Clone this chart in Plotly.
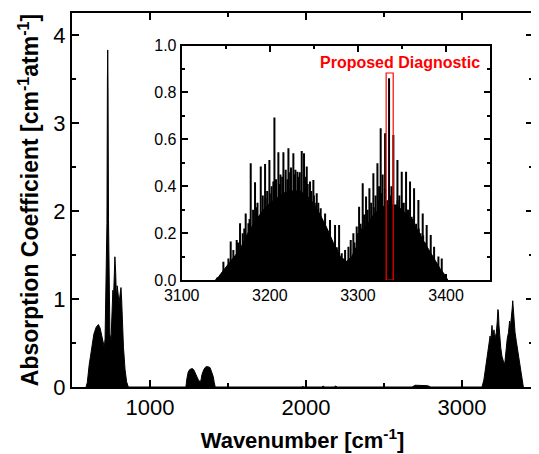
import plotly.graph_objects as go

# espectro completo (contorno)
wn_main = [590, 598, 610, 625, 640, 655, 669, 680, 692, 700, 707, 712, 716, 720, 724, 727, 729, 731, 734, 738,
           743, 750, 756, 762, 766, 770, 775, 780, 785, 790, 796, 802, 808, 814, 818, 822, 830, 840, 850, 861,
           1230, 1237, 1245, 1255, 1265, 1272, 1282, 1295, 1310, 1322, 1327, 1333, 1345, 1358, 1372, 1385,
           1395, 1405, 1412, 1418,
           1975, 1980, 1985, 2100, 2110, 2120, 2180, 2190, 2200, 2680, 2700, 2740, 2780, 2800,
           3128, 3140, 3150, 3160, 3168, 3175, 3180, 3184, 3188, 3192, 3196, 3200, 3205, 3210, 3215, 3220,
           3226, 3230, 3233, 3237, 3242, 3248, 3256, 3265, 3272, 3276, 3282, 3290, 3298, 3305, 3309, 3313,
           3318, 3322, 3325, 3329, 3334, 3340, 3348, 3358, 3368, 3378, 3386, 3393]
ab_main = [0, 0.05, 0.25, 0.45, 0.6, 0.68, 0.71, 0.67, 0.57, 0.49, 0.45, 0.55, 1.0, 1.6, 1.86, 3.5, 3.83, 3.4, 1.9, 0.9,
           0.6, 0.53, 0.75, 1.1, 1.0, 1.25, 1.48, 1.3, 1.0, 1.15, 1.0, 0.95, 1.05, 1.13, 1.0, 0.75, 0.45, 0.2, 0.06, 0,
           0, 0.1, 0.17, 0.2, 0.21, 0.21, 0.19, 0.14, 0.08, 0.06, 0.08, 0.14, 0.2, 0.23, 0.23, 0.22,
           0.18, 0.12, 0.05, 0,
           0, 0.01, 0, 0, 0.01, 0, 0, 0.01, 0, 0, 0.02, 0.02, 0.015, 0,
           0, 0.08, 0.2, 0.35, 0.45, 0.55, 0.58, 0.5, 0.62, 0.7, 0.6, 0.6, 0.65, 0.55, 0.58, 0.62,
           0.75, 0.88, 0.86, 0.7, 0.55, 0.45, 0.35, 0.27, 0.25, 0.3, 0.42, 0.55, 0.62, 0.75, 0.66, 0.72,
           0.8, 0.9, 0.98, 0.85, 0.72, 0.62, 0.52, 0.4, 0.28, 0.15, 0.06, 0]

# inset: fondo denso de lineas
wn_base = [3138, 3142, 3147, 3155, 3166, 3175, 3185, 3195, 3204, 3215, 3223, 3234, 3242, 3249, 3257, 3265,
           3272, 3280, 3287, 3293, 3299, 3308, 3318, 3326, 3333, 3344, 3355, 3365, 3374, 3385, 3393, 3398, 3402]
ab_base = [0, 0.015, 0.04, 0.08, 0.13, 0.2, 0.26, 0.31, 0.34, 0.37, 0.38, 0.38, 0.36, 0.33, 0.28, 0.22,
           0.16, 0.1, 0.08, 0.1, 0.15, 0.22, 0.28, 0.31, 0.32, 0.32, 0.28, 0.23, 0.17, 0.1, 0.05, 0.025, 0]

# inset: lineas individuales
wn_lines = [3140.5, 3147.3, 3153.0, 3155.6, 3158.6, 3162.4, 3166.2, 3169.2, 3172.6, 3175.7, 3178.3, 3183.2,
            3187.0, 3189.7, 3194.6, 3199.5, 3205.2, 3209.7, 3215.4, 3221.1, 3226.7, 3231.3, 3236.2, 3238.8,
            3241.9, 3245.6, 3249.4, 3253.2, 3257.7, 3262.7, 3268.3, 3274.0, 3278.6, 3281.6, 3285.4, 3289.2,
            3291.8, 3294.8, 3298.6, 3301.3, 3305.4, 3309.2, 3313.0, 3317.5, 3322.1, 3325.8, 3330.8, 3335.3,
            3340.2, 3344.8, 3349.7, 3354.6, 3359.1, 3363.7, 3368.6, 3373.5, 3378.0, 3382.6, 3386.4, 3391.3,
            3395.1, 3398.1,
            3181, 3186, 3192, 3197, 3202, 3207, 3212, 3218, 3224, 3229, 3234, 3240, 3247, 3251, 3256, 3260,
            3265, 3270, 3276, 3296, 3303, 3307, 3311, 3315, 3320, 3324, 3328, 3333, 3338, 3342, 3347, 3352,
            3357, 3361, 3366, 3371, 3376,
            3164, 3171, 3177, 3185, 3195, 3200, 3204, 3211, 3214, 3220, 3223, 3228, 3233, 3243, 3250, 3255,
            3300, 3304, 3310, 3318, 3323, 3327, 3331, 3337, 3345, 3350, 3356, 3362, 3369, 3374]
ab_lines = [0.011, 0.078, 0.092, 0.164, 0.128, 0.171, 0.242, 0.199, 0.284, 0.242, 0.498, 0.417,
            0.228, 0.484, 0.495, 0.512, 0.693, 0.545, 0.545, 0.562, 0.541, 0.462, 0.55, 0.541,
            0.484, 0.42, 0.427, 0.37, 0.306, 0.284, 0.256, 0.235, 0.235, 0.114, 0.128, 0.142,
            0.171, 0.199, 0.228, 0.313, 0.413, 0.356, 0.391, 0.455, 0.498, 0.647, 0.626, 0.861,
            0.619, 0.512, 0.462, 0.462, 0.42, 0.391, 0.341, 0.284, 0.235, 0.192, 0.142, 0.1,
            0.092, 0.021,
            0.30, 0.33, 0.36, 0.38, 0.40, 0.43, 0.45, 0.47, 0.48, 0.47, 0.46, 0.44, 0.38, 0.33, 0.28, 0.24,
            0.20, 0.17, 0.14, 0.16, 0.24, 0.28, 0.30, 0.33, 0.36, 0.40, 0.45, 0.34, 0.40, 0.30, 0.36, 0.33,
            0.30, 0.27, 0.24, 0.20, 0.16,
            0.16, 0.22, 0.26, 0.31, 0.35, 0.37, 0.42, 0.41, 0.44, 0.43, 0.46, 0.45, 0.44, 0.41, 0.36, 0.33,
            0.2, 0.22, 0.27, 0.31, 0.34, 0.37, 0.39, 0.36, 0.34, 0.33, 0.3, 0.26, 0.22, 0.19]

# zona del diagnostico propuesto
diag_lo, diag_hi, diag_top = 3332, 3340, 0.883

fuente = "Liberation Sans, Arial, sans-serif"

# lineas como segmentos verticales
xs, ys = [], []
for w, a in zip(wn_lines, ab_lines):
    xs += [w, w, None]
    ys += [0, a, None]

fig = go.Figure()
fig.add_trace(go.Scatter(x=wn_main, y=ab_main, mode="lines", fill="tozeroy",
                         line=dict(color="black", width=1), fillcolor="black"))
fig.add_trace(go.Scatter(x=wn_base, y=ab_base, mode="lines", fill="tozeroy",
                         line=dict(color="black", width=1), fillcolor="black",
                         xaxis="x2", yaxis="y2"))
fig.add_trace(go.Scatter(x=xs, y=ys, mode="lines", line=dict(color="black", width=2),
                         xaxis="x2", yaxis="y2"))

fig.add_shape(type="rect", xref="x2", yref="y2", x0=diag_lo, x1=diag_hi, y0=0, y1=diag_top,
              line=dict(color="red", width=1.2))
fig.add_annotation(text="<b>Proposed Diagnostic</b>", xref="x2", yref="y2", x=3441, y=0.926,
                   xanchor="right", yanchor="middle", showarrow=False,
                   font=dict(family=fuente, size=16, color="red"))

eje = dict(showline=True, linecolor="black", linewidth=2, mirror="ticks", ticks="inside",
           tickcolor="black", tickwidth=1.5, showgrid=False, zeroline=False, automargin=False)

# la pagina deja 8 px de margen en el body, se descuenta aqui
fig.update_layout(
    width=531, height=446,
    margin=dict(l=64, r=6, t=5, b=67),
    plot_bgcolor="white", paper_bgcolor="white",
    showlegend=False,
    font=dict(family=fuente, color="black"),
    xaxis=dict(eje, range=[500, 3455], dtick=1000, tick0=0, ticklen=7,
               tickfont=dict(size=22),
               minor=dict(ticks="inside", dtick=500, ticklen=4, tickcolor="black", tickwidth=1.5),
               title=dict(text="<b>Wavenumber [cm<sup>-1</sup>]</b>", font=dict(size=22), standoff=13)),
    yaxis=dict(eje, range=[0, 4.25], dtick=1, ticklen=7, tickfont=dict(size=22),
               minor=dict(ticks="inside", dtick=0.5, ticklen=4, tickcolor="black", tickwidth=1.5),
               title=dict(text="<b>Absorption Coefficient [cm<sup>-1</sup>atm<sup>-1</sup>]</b>",
                          font=dict(size=23), standoff=8)),
    xaxis2=dict(eje, domain=[0.238, 0.907], anchor="y2", range=[3100, 3450], dtick=100,
                ticklen=6, tickfont=dict(size=16),
                minor=dict(ticks="inside", dtick=50, ticklen=3, tickcolor="black", tickwidth=1.5)),
    yaxis2=dict(eje, domain=[0.286, 0.913], anchor="x2", range=[0, 1.0], dtick=0.2,
                tickformat=".1f", ticklen=6, tickfont=dict(size=16),
                minor=dict(ticks="inside", dtick=0.1, ticklen=3, tickcolor="black", tickwidth=1.5)),
)

fig.write_html("out.html")
